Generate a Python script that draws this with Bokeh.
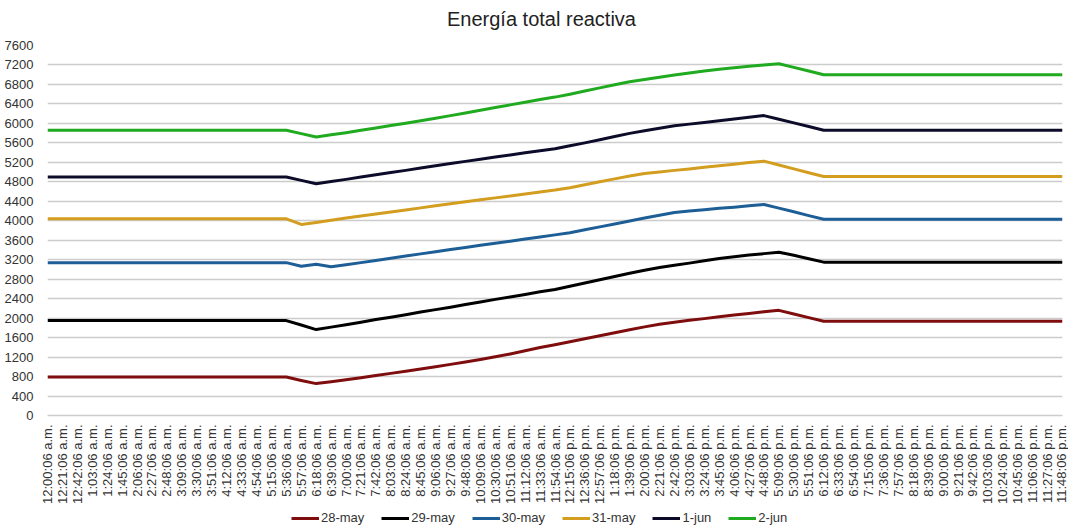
import math
from bokeh.plotting import figure
from bokeh.layouts import column
from bokeh.models import FixedTicker, Legend, LegendItem, Range1d, Label
from bokeh.embed import file_html
from bokeh.resources import INLINE

title_text = "Energía total reactiva"

times = [
    "12:00:06 a.m.", "12:21:06 a.m.", "12:42:06 a.m.", "1:03:06 a.m.", "1:24:06 a.m.",
    "1:45:06 a.m.", "2:06:06 a.m.", "2:27:06 a.m.", "2:48:06 a.m.", "3:09:06 a.m.",
    "3:30:06 a.m.", "3:51:06 a.m.", "4:12:06 a.m.", "4:33:06 a.m.", "4:54:06 a.m.",
    "5:15:06 a.m.", "5:36:06 a.m.", "5:57:06 a.m.", "6:18:06 a.m.", "6:39:06 a.m.",
    "7:00:06 a.m.", "7:21:06 a.m.", "7:42:06 a.m.", "8:03:06 a.m.", "8:24:06 a.m.",
    "8:45:06 a.m.", "9:06:06 a.m.", "9:27:06 a.m.", "9:48:06 a.m.", "10:09:06 a.m.",
    "10:30:06 a.m.", "10:51:06 a.m.", "11:12:06 a.m.", "11:33:06 a.m.", "11:54:06 a.m.",
    "12:15:06 p.m.", "12:36:06 p.m.", "12:57:06 p.m.", "1:18:06 p.m.", "1:39:06 p.m.",
    "2:00:06 p.m.", "2:21:06 p.m.", "2:42:06 p.m.", "3:03:06 p.m.", "3:24:06 p.m.",
    "3:45:06 p.m.", "4:06:06 p.m.", "4:27:06 p.m.", "4:48:06 p.m.", "5:09:06 p.m.",
    "5:30:06 p.m.", "5:51:06 p.m.", "6:12:06 p.m.", "6:33:06 p.m.", "6:54:06 p.m.",
    "7:15:06 p.m.", "7:36:06 p.m.", "7:57:06 p.m.", "8:18:06 p.m.", "8:39:06 p.m.",
    "9:00:06 p.m.", "9:21:06 p.m.", "9:42:06 p.m.", "10:03:06 p.m.", "10:24:06 p.m.",
    "10:45:06 p.m.", "11:06:06 p.m.", "11:27:06 p.m.", "11:48:06 p.m.",
]

may28 = [
    790, 790, 790, 790, 790, 790, 790, 790, 790, 790, 790, 790, 790, 790, 790, 790, 790,
    720, 655, 695, 735, 775, 820, 865, 910, 955, 1000, 1050, 1100, 1150, 1205, 1265,
    1330, 1395, 1455, 1515, 1575, 1640, 1700, 1760, 1820, 1875, 1915, 1955, 1990, 2030,
    2065, 2095, 2130, 2160, 2085, 2010,
    1935, 1935, 1935, 1935, 1935, 1935, 1935, 1935, 1935, 1935, 1935, 1935, 1935, 1935,
    1935, 1935, 1935,
]
may29 = [
    1950, 1950, 1950, 1950, 1950, 1950, 1950, 1950, 1950, 1950, 1950, 1950, 1950, 1950,
    1950, 1950, 1950,
    1860, 1765, 1815, 1865, 1915, 1970, 2020, 2070, 2125, 2175, 2225, 2280, 2330, 2385,
    2435, 2485, 2540, 2590, 2655, 2720, 2790, 2855, 2920, 2985, 3040, 3085, 3130, 3180,
    3225, 3260, 3295, 3325, 3355, 3290, 3220,
    3150, 3150, 3150, 3150, 3150, 3150, 3150, 3150, 3150, 3150, 3150, 3150, 3150, 3150,
    3150, 3150, 3150,
]
may30 = [
    3140, 3140, 3140, 3140, 3140, 3140, 3140, 3140, 3140, 3140, 3140, 3140, 3140, 3140,
    3140, 3140, 3140,
    3065, 3105, 3055, 3095, 3140, 3185, 3230, 3275, 3320, 3365, 3410, 3450, 3495, 3540,
    3580, 3625, 3665, 3710, 3755, 3815, 3875, 3935, 3995, 4055, 4115, 4170, 4200, 4225,
    4255, 4280, 4310, 4335, 4260, 4185, 4105,
    4030, 4030, 4030, 4030, 4030, 4030, 4030, 4030, 4030, 4030, 4030, 4030, 4030, 4030,
    4030, 4030, 4030,
]
may31 = [
    4040, 4040, 4040, 4040, 4040, 4040, 4040, 4040, 4040, 4040, 4040, 4040, 4040, 4040,
    4040, 4040, 4040,
    3925, 3965, 4010, 4055, 4100, 4140, 4180, 4220, 4265, 4310, 4350, 4390, 4430, 4470,
    4510, 4550, 4590, 4630, 4680, 4740, 4800, 4860, 4920, 4970, 5000, 5035, 5065, 5100,
    5130, 5160, 5195, 5225, 5145, 5065, 4985,
    4910, 4910, 4910, 4910, 4910, 4910, 4910, 4910, 4910, 4910, 4910, 4910, 4910, 4910,
    4910, 4910, 4910,
]
jun1 = [
    4900, 4900, 4900, 4900, 4900, 4900, 4900, 4900, 4900, 4900, 4900, 4900, 4900, 4900,
    4900, 4900, 4900,
    4830, 4760, 4805, 4850, 4900, 4945, 4990, 5035, 5085, 5130, 5175, 5220, 5265, 5310,
    5350, 5395, 5440, 5480, 5540, 5600, 5665, 5730, 5795, 5850, 5900, 5950, 5985, 6020,
    6055, 6090, 6125, 6160, 6085, 6010, 5935,
    5860, 5860, 5860, 5860, 5860, 5860, 5860, 5860, 5860, 5860, 5860, 5860, 5860, 5860,
    5860, 5860, 5860,
]
jun2 = [
    5860, 5860, 5860, 5860, 5860, 5860, 5860, 5860, 5860, 5860, 5860, 5860, 5860, 5860,
    5860, 5860, 5860,
    5790, 5720, 5765, 5810, 5860, 5905, 5955, 6005, 6055, 6105, 6160, 6215, 6270, 6325,
    6380, 6435, 6490, 6540, 6600, 6665, 6730, 6795, 6855, 6900, 6950, 6995, 7035, 7075,
    7110, 7145, 7175, 7200, 7225, 7150, 7075,
    7000, 7000, 7000, 7000, 7000, 7000, 7000, 7000, 7000, 7000, 7000, 7000, 7000, 7000,
    7000, 7000, 7000,
]

series_names = ["28-may", "29-may", "30-may", "31-may", "1-jun", "2-jun"]
series_values = [may28, may29, may30, may31, jun1, jun2]
series_colors = ["#7f0d0d", "#000000", "#1d5e96", "#d39d1f", "#0c0c2a", "#1faa1f"]

y_ticks = [0, 400, 800, 1200, 1600, 2000, 2400, 2800, 3200, 3600, 4000, 4400,
           4800, 5200, 5600, 6000, 6400, 6800, 7200, 7600]

FONT = "Liberation Sans"
LABEL_COLOR = "#333333"
GRID_COLOR = "#cccccc"
W = 1068
LEFT = 47  # frame left offset; the column aligns all frames to it

xs = list(range(len(times)))

# ---- title strip ----
tt = figure(
    width=W, height=36, output_backend="svg", toolbar_location=None,
    x_range=Range1d(0, 1), y_range=Range1d(0, 1),
    x_axis_location=None, y_axis_location=None, min_border=0,
)
tt.grid.visible = False
tt.outline_line_color = None
tt.add_layout(Label(
    x=541 - LEFT, y=18, x_units="screen", y_units="screen", text=title_text,
    text_align="center", text_baseline="middle",
    text_font=FONT, text_font_size="20px", text_color="#222222",
))

# ---- main chart ----
p = figure(
    width=W, height=472,
    output_backend="svg", toolbar_location=None,
    x_range=Range1d(xs[0], xs[-1]),
    y_range=Range1d(y_ticks[0], y_ticks[-1]),
    min_border_left=LEFT, min_border_right=6,
    min_border_top=9, min_border_bottom=93,
)

for name, vals, col in zip(series_names, series_values, series_colors):
    p.line(xs, vals, line_color=col, line_width=3, line_join="round")

p.outline_line_color = None
p.background_fill_color = "white"
p.border_fill_color = "white"

p.xgrid.visible = False
p.ygrid.ticker = FixedTicker(ticks=y_ticks)
p.ygrid.grid_line_color = GRID_COLOR
p.ygrid.grid_line_width = 1.3

p.yaxis.ticker = FixedTicker(ticks=y_ticks)
p.yaxis.axis_line_color = None
p.yaxis.major_tick_line_color = None
p.yaxis.minor_tick_line_color = None
p.yaxis.major_label_standoff = 8
p.yaxis.major_label_text_font = FONT
p.yaxis.major_label_text_font_size = "13px"
p.yaxis.major_label_text_color = LABEL_COLOR

p.xaxis.ticker = FixedTicker(ticks=xs)
p.xaxis.major_label_overrides = {i: t for i, t in enumerate(times)}
p.xaxis.major_label_orientation = math.pi / 2
p.xaxis.axis_line_color = GRID_COLOR
p.xaxis.axis_line_width = 1.3
p.xaxis.major_tick_line_color = None
p.xaxis.minor_tick_line_color = None
p.xaxis.major_label_standoff = 3
p.xaxis.major_label_text_font = FONT
p.xaxis.major_label_text_font_size = "13px"
p.xaxis.major_label_text_color = LABEL_COLOR

# ---- legend strip (series drawn off-view so only the legend shows) ----
lg = figure(
    width=W, height=18, output_backend="svg", toolbar_location=None,
    x_range=Range1d(0, 1), y_range=Range1d(-2, -1),
    x_axis_location=None, y_axis_location=None, min_border=0,
)
lg.grid.visible = False
lg.outline_line_color = None
items = []
for name, vals, col in zip(series_names, series_values, series_colors):
    r = lg.line(xs, vals, line_color=col, line_width=3)
    items.append(LegendItem(label=name, renderers=[r]))
legend = Legend(
    items=items, orientation="horizontal", location=(291 - LEFT, 1),
    label_text_font=FONT, label_text_font_size="13px", label_text_color=LABEL_COLOR,
    glyph_width=28, glyph_height=14, label_standoff=2, spacing=17,
    padding=0, margin=0, border_line_color=None, background_fill_alpha=0,
)
lg.add_layout(legend, "center")

layout = column(tt, p, lg, spacing=0)
open("out.html", "w").write(file_html(layout, INLINE))
